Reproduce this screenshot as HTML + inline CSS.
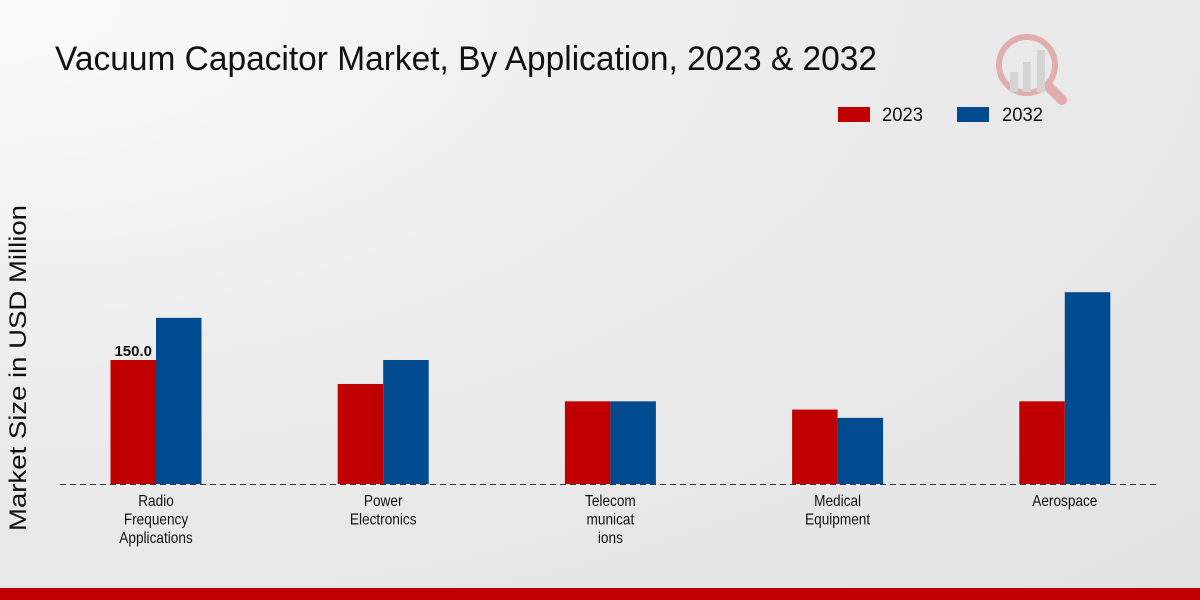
<!DOCTYPE html>
<html><head><meta charset="utf-8"><style>
html,body{margin:0;padding:0;width:1200px;height:600px;overflow:hidden}
body{background:radial-gradient(ellipse at 0% 0%,#fbfbfb 0%,#ececec 45%,#e2e2e2 100%);font-family:"Liberation Sans",sans-serif}
</style></head><body>
<svg width="1200" height="600" id="c" xmlns="http://www.w3.org/2000/svg">
<text x="55" y="70" font-size="34" fill="#111" textLength="822" lengthAdjust="spacingAndGlyphs">Vacuum Capacitor Market, By Application, 2023 &amp; 2032</text>
<g>
<rect x="838" y="107" width="32" height="15" fill="#c00000"/>
<text x="882" y="121" font-size="19" fill="#111" textLength="41" lengthAdjust="spacingAndGlyphs">2023</text>
<rect x="957" y="107" width="32" height="15" fill="#004a8f"/>
<text x="1002" y="121" font-size="19" fill="#111" textLength="41" lengthAdjust="spacingAndGlyphs">2032</text>
</g>
<text transform="translate(26,368) rotate(-90)" font-size="24" fill="#111" text-anchor="middle" textLength="326" lengthAdjust="spacingAndGlyphs">Market Size in USD Million</text>
<line x1="60" y1="484.5" x2="1160" y2="484.5" stroke="#333" stroke-dasharray="6,4"/>
<g id="bars"></g>
<g opacity="0.25">
<circle cx="1027" cy="65" r="28" fill="none" stroke="#c00" stroke-width="6"/>
<line x1="1048" y1="86" x2="1062" y2="100" stroke="#c00" stroke-width="10" stroke-linecap="round"/>
<rect x="1010" y="72" width="8" height="20" fill="#999"/><rect x="1023" y="62" width="8" height="30" fill="#999"/><rect x="1037" y="50" width="8" height="42" fill="#999"/>
</g>
<rect x="0" y="588" width="1200" height="12" fill="#c00000"/>
</svg>
<script>
const categories=[["Radio","Frequency","Applications"],["Power","Electronics"],["Telecom","municat","ions"],["Medical","Equipment"],["Aerospace"]];
const values2023=[150,121,100,90,100];
const values2032=[201,150,100,80,232];
const labels2023=["150.0","","","",""];
const g=document.getElementById('bars');const NS="http://www.w3.org/2000/svg";
const y=v=>484-v*0.8267, x=i=>156+i*227.2, bw=45.5;
function mk(t,a){const e=document.createElementNS(NS,t);for(const k in a)e.setAttribute(k,a[k]);g.appendChild(e);return e;}
categories.forEach((c,i)=>{
 const r1=mk('rect',{x:x(i)-bw,y:y(values2023[i]),width:bw,height:484-y(values2023[i]),fill:'#c00000'});
 
 
 const r2=mk('rect',{x:x(i),y:y(values2032[i]),width:bw,height:484-y(values2032[i]),fill:'#004a8f'});
 
 
 if(labels2023[i]){const t=mk('text',{x:x(i)-bw/2,y:y(values2023[i])-4,'font-size':15,'font-weight':'bold','text-anchor':'middle',fill:'#111'});t.textContent=labels2023[i];
 
 }
 c.forEach((ln,j)=>{const t=mk('text',{transform:'translate('+x(i)+','+(506+j*18.5)+') scale(0.88,1)','font-size':15.5,'text-anchor':'middle',fill:'#111'});t.textContent=ln;
 
 });
});
</script>
</body></html>
